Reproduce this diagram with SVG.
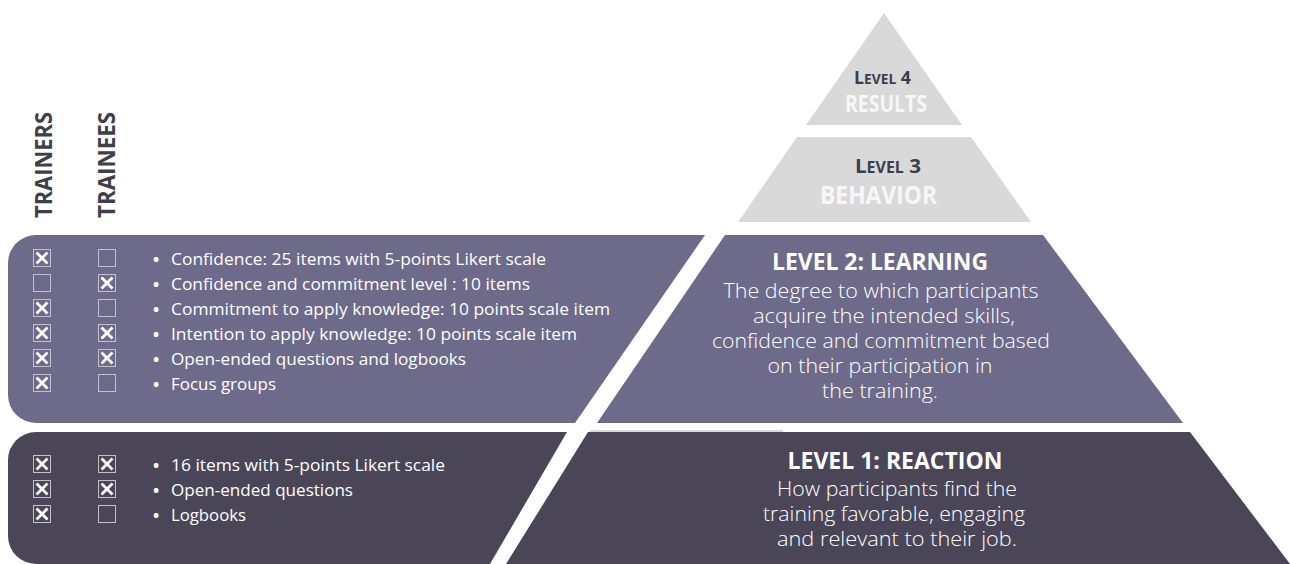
<svg xmlns="http://www.w3.org/2000/svg" xmlns:xlink="http://www.w3.org/1999/xlink" width="1290" height="564" viewBox="0 0 1290 564">
<style>
.bg{fill:#ffffff}
.l2{fill:#6e6a89}
.l1{fill:#4a4658}
.gray{fill:#d9d9d9}
.hdr{font-family:"Open Sans","Liberation Sans",sans-serif;font-weight:700;font-size:24px;fill:#3f3f4a}
.item{font-family:"Open Sans","Liberation Sans",sans-serif;font-size:16.5px;fill:#ffffff}
.bul{font-family:"Open Sans","Liberation Sans",sans-serif;font-size:16.5px;font-weight:700;fill:#ffffff}
.ttl{font-family:"Open Sans","Liberation Sans",sans-serif;font-weight:700;font-size:22.5px;fill:#ffffff;text-anchor:middle}
.body{font-family:"Open Sans","Liberation Sans",sans-serif;font-weight:300;font-size:20px;fill:#ffffff;text-anchor:middle}
.lvl{font-family:"Open Sans","Liberation Sans",sans-serif;font-weight:700;fill:#3d3d4f}
.big{font-family:"Open Sans","Liberation Sans",sans-serif;font-weight:700;fill:#f7f7f7}
</style>
<defs>
<g id="box"><rect x="0.5" y="0.5" width="17" height="17" fill="none" stroke="#c3c1cf" stroke-width="1"/></g>
<g id="chk"><rect x="0.5" y="0.5" width="17" height="17" fill="none" stroke="#c3c1cf" stroke-width="1"/><path d="M3.5,3.5 L14.5,14.5 M14.5,3.5 L3.5,14.5" stroke="#ffffff" stroke-width="2.8" stroke-linecap="butt"/></g>
</defs>
<rect class="bg" x="0" y="0" width="1290" height="564"/>

<g id="headers">
<text class="hdr" transform="translate(52,218) rotate(-90)" textLength="106" lengthAdjust="spacingAndGlyphs">TRAINERS</text>
<text class="hdr" transform="translate(115,218) rotate(-90)" textLength="106" lengthAdjust="spacingAndGlyphs">TRAINEES</text>
</g>

<g id="level4">
<path class="gray" d="M884,13 L962,125 L806,125 Z"/>
<text class="lvl" x="854" y="84" textLength="57" lengthAdjust="spacingAndGlyphs"><tspan font-size="18">L</tspan><tspan font-size="14">EVEL</tspan><tspan font-size="18"> 4</tspan></text>
<text class="big" x="845" y="112" font-size="22.5" textLength="82" lengthAdjust="spacingAndGlyphs">RESULTS</text>
</g>

<g id="level3">
<path class="gray" d="M797,137 L971,137 L1031,222 L738,222 Z"/>
<text class="lvl" x="855" y="173" textLength="66" lengthAdjust="spacingAndGlyphs"><tspan font-size="20">L</tspan><tspan font-size="15.5">EVEL</tspan><tspan font-size="20"> 3</tspan></text>
<text class="big" x="820" y="204" font-size="24.5" textLength="117" lengthAdjust="spacingAndGlyphs">BEHAVIOR</text>
</g>

<g id="level2">
<path class="l2" d="M725,235 L1043,235 L1183,423 L597,423 Z"/>
<text class="ttl" x="880" y="270" textLength="216" lengthAdjust="spacingAndGlyphs">LEVEL 2: LEARNING</text>
<text class="body" x="881" y="298" textLength="315" lengthAdjust="spacingAndGlyphs">The degree to which participants</text>
<text class="body" x="884" y="323" textLength="262" lengthAdjust="spacingAndGlyphs">acquire the intended skills,</text>
<text class="body" x="881" y="348" textLength="338" lengthAdjust="spacingAndGlyphs">confidence and commitment based</text>
<text class="body" x="880" y="373" textLength="225" lengthAdjust="spacingAndGlyphs">on their participation in</text>
<text class="body" x="880" y="398" textLength="116" lengthAdjust="spacingAndGlyphs">the training.</text>
</g>

<g id="level1">
<path class="l1" d="M588,432 L1190,432 L1290,564 L506,564 Z"/>
<line x1="590" y1="431" x2="783" y2="431" stroke="#b5b5b5" stroke-width="1"/>
<text class="ttl" x="895" y="469" textLength="215" lengthAdjust="spacingAndGlyphs">LEVEL 1: REACTION</text>
<text class="body" x="897" y="496" textLength="240" lengthAdjust="spacingAndGlyphs">How participants find the</text>
<text class="body" x="894" y="521" textLength="262" lengthAdjust="spacingAndGlyphs">training favorable, engaging</text>
<text class="body" x="897" y="546" textLength="240" lengthAdjust="spacingAndGlyphs">and relevant to their job.</text>
</g>

<g id="level2-measures">
<path class="l2" d="M36,235 L705,235 L575,423 L36,423 A28,28 0 0 1 8,395 L8,263 A28,28 0 0 1 36,235 Z"/>
<use xlink:href="#chk" href="#chk" x="33" y="249"/><use xlink:href="#box" href="#box" x="98" y="249"/>
<use xlink:href="#box" href="#box" x="33" y="274"/><use xlink:href="#chk" href="#chk" x="98" y="274"/>
<use xlink:href="#chk" href="#chk" x="33" y="299"/><use xlink:href="#box" href="#box" x="98" y="299"/>
<use xlink:href="#chk" href="#chk" x="33" y="324"/><use xlink:href="#chk" href="#chk" x="98" y="324"/>
<use xlink:href="#chk" href="#chk" x="33" y="349"/><use xlink:href="#chk" href="#chk" x="98" y="349"/>
<use xlink:href="#chk" href="#chk" x="33" y="374"/><use xlink:href="#box" href="#box" x="98" y="374"/>
<text class="bul" x="153" y="265">•</text>
<text class="bul" x="153" y="290">•</text>
<text class="bul" x="153" y="315">•</text>
<text class="bul" x="153" y="340">•</text>
<text class="bul" x="153" y="365">•</text>
<text class="bul" x="153" y="390">•</text>
<text class="item" x="171" y="265" textLength="375" lengthAdjust="spacingAndGlyphs">Confidence: 25 items with 5-points Likert scale</text>
<text class="item" x="171" y="290" textLength="359" lengthAdjust="spacingAndGlyphs">Confidence and commitment level : 10 items</text>
<text class="item" x="171" y="315" textLength="439" lengthAdjust="spacingAndGlyphs">Commitment to apply knowledge: 10 points scale item</text>
<text class="item" x="171" y="340" textLength="406" lengthAdjust="spacingAndGlyphs">Intention to apply knowledge: 10 points scale item</text>
<text class="item" x="171" y="365" textLength="295" lengthAdjust="spacingAndGlyphs">Open-ended questions and logbooks</text>
<text class="item" x="171" y="390" textLength="105" lengthAdjust="spacingAndGlyphs">Focus groups</text>
</g>

<g id="level1-measures">
<path class="l1" d="M36,432 L567,432 L490,564 L36,564 A28,28 0 0 1 8,536 L8,460 A28,28 0 0 1 36,432 Z"/>
<use xlink:href="#chk" href="#chk" x="33" y="455"/><use xlink:href="#chk" href="#chk" x="98" y="455"/>
<use xlink:href="#chk" href="#chk" x="33" y="480"/><use xlink:href="#chk" href="#chk" x="98" y="480"/>
<use xlink:href="#chk" href="#chk" x="33" y="505"/><use xlink:href="#box" href="#box" x="98" y="505"/>
<text class="bul" x="153" y="471">•</text>
<text class="bul" x="153" y="496">•</text>
<text class="bul" x="153" y="521">•</text>
<text class="item" x="171" y="471" textLength="274" lengthAdjust="spacingAndGlyphs">16 items with 5-points Likert scale</text>
<text class="item" x="171" y="496" textLength="182" lengthAdjust="spacingAndGlyphs">Open-ended questions</text>
<text class="item" x="171" y="521" textLength="75" lengthAdjust="spacingAndGlyphs">Logbooks</text>
</g>

<g id="connectors"/>
</svg>
